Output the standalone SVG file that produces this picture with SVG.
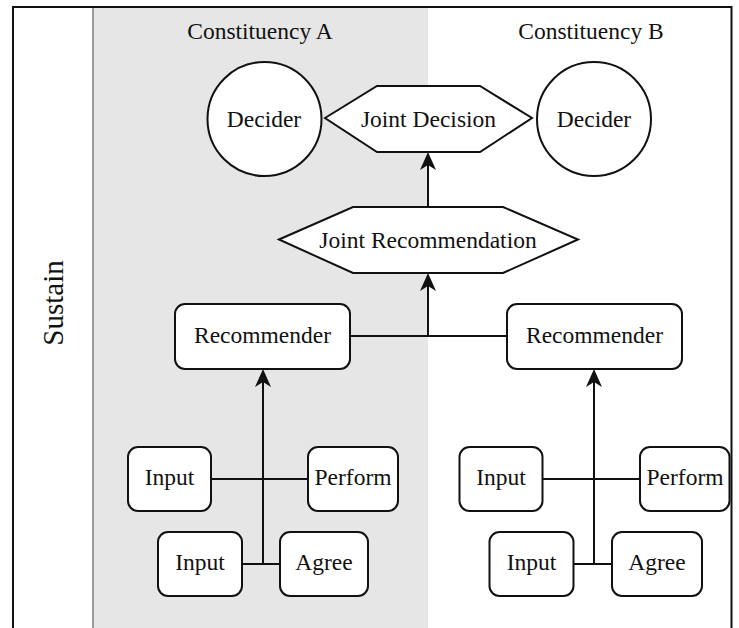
<svg xmlns="http://www.w3.org/2000/svg" width="739" height="628" viewBox="0 0 739 628">
<style>
text{font-family:'Liberation Serif','DejaVu Serif',serif;font-size:23.5px;fill:#111;text-anchor:middle}
.box{fill:#fff;stroke:#111;stroke-width:2}
.conn{fill:none;stroke:#111;stroke-width:2}
</style>
<defs>
<marker id="arr" markerUnits="userSpaceOnUse" markerWidth="18" markerHeight="16" refX="13" refY="8" orient="auto" viewBox="0 0 18 16">
<path d="M0,0 L18,8 L0,16 L5,8 Z" fill="#111"/>
</marker>
</defs>
<g id="background">
<rect x="0" y="0" width="739" height="628" fill="#fff"/>
<rect x="93" y="7" width="335" height="625" fill="#e6e6e6"/>
<line x1="93" y1="7" x2="93" y2="632" stroke="#999" stroke-width="2"/>
<path d="M13,632 V7 H731.5 V632" fill="none" stroke="#111" stroke-width="2"/>
<text x="0" y="0" transform="translate(63,303) rotate(-90)" font-family="Liberation Serif, serif" style="font-size:29px">Sustain</text>
<text x="260" y="39" font-family="Liberation Serif, serif">Constituency A</text>
<text x="591" y="39" font-family="Liberation Serif, serif">Constituency B</text>
</g>
<g id="connectors">
<path class="conn" d="M350,336 H428 V278" marker-end="url(#arr)"/>
<path class="conn" d="M507,336 H428"/>
<path class="conn" d="M428,207 V157" marker-end="url(#arr)"/>
<path class="conn" d="M211,479 H308"/>
<path class="conn" d="M242,564 H280"/>
<path class="conn" d="M263,564 V374" marker-end="url(#arr)"/>
<path class="conn" d="M543,479 H640"/>
<path class="conn" d="M573,564 H612"/>
<path class="conn" d="M594,564 V374" marker-end="url(#arr)"/>
</g>
<g id="deciderA">
<circle class="box" cx="264.5" cy="119" r="57"/>
<text x="264" y="127">Decider</text>
</g>
<g id="deciderB">
<circle class="box" cx="594" cy="119" r="57"/>
<text x="594" y="127">Decider</text>
</g>
<g id="jointDecision">
<polygon class="box" points="325,118 377,86 480,86 532,118 480,152 377,152"/>
<text x="428.5" y="127">Joint Decision</text>
</g>
<g id="jointRecommendation">
<polygon class="box" points="279,239.5 353,207 503,207 578,239.5 503,273 353,273"/>
<text x="428" y="247.5">Joint Recommendation</text>
</g>
<g id="recommenderA">
<rect class="box" x="175" y="304" width="175" height="65" rx="10"/>
<text x="262.5" y="343">Recommender</text>
</g>
<g id="recommenderB">
<rect class="box" x="507" y="304" width="175" height="65" rx="10"/>
<text x="594.5" y="343">Recommender</text>
</g>
<g id="inputA1">
<rect class="box" x="128" y="447" width="83" height="64" rx="10"/>
<text x="169.5" y="485">Input</text>
</g>
<g id="performA">
<rect class="box" x="308" y="447" width="90" height="64" rx="10"/>
<text x="353" y="485">Perform</text>
</g>
<g id="inputA2">
<rect class="box" x="158" y="532" width="84" height="64" rx="10"/>
<text x="200" y="570">Input</text>
</g>
<g id="agreeA">
<rect class="box" x="280" y="532" width="88" height="64" rx="10"/>
<text x="324" y="570">Agree</text>
</g>
<g id="inputB1">
<rect class="box" x="459.5" y="447" width="83" height="64" rx="10"/>
<text x="501" y="485">Input</text>
</g>
<g id="performB">
<rect class="box" x="640" y="447" width="89.5" height="64" rx="10"/>
<text x="685" y="485">Perform</text>
</g>
<g id="inputB2">
<rect class="box" x="489.5" y="532" width="84" height="64" rx="10"/>
<text x="531.5" y="570">Input</text>
</g>
<g id="agreeB">
<rect class="box" x="612" y="532" width="90" height="64" rx="10"/>
<text x="657" y="570">Agree</text>
</g>
</svg>
